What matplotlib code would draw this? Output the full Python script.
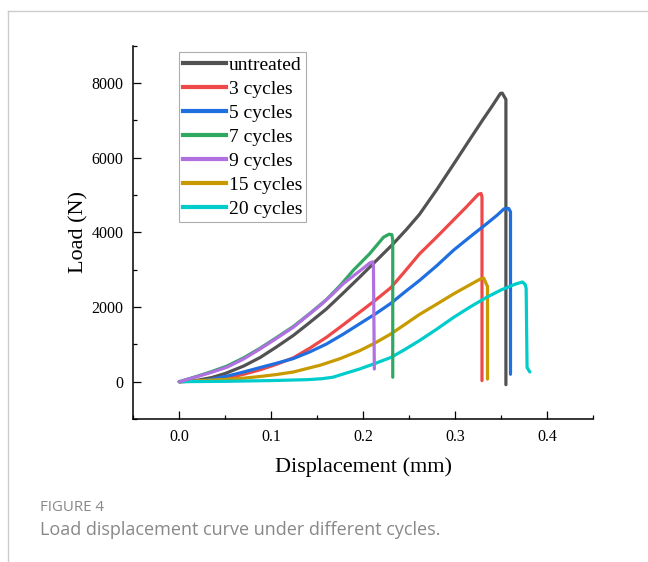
import numpy as np
import matplotlib
matplotlib.use('Agg')
import matplotlib.pyplot as plt
from matplotlib.lines import Line2D
from matplotlib.ticker import MultipleLocator

# displacement (mm) / load (N), one pair per series
x_untreated = [0, 0.02, 0.035, 0.05, 0.07, 0.088, 0.105, 0.124, 0.142, 0.16, 0.178, 0.196, 0.214, 0.232,
               0.247, 0.261, 0.28, 0.298, 0.315, 0.33, 0.34, 0.349, 0.351, 0.355, 0.355]
y_untreated = [0, 40, 110, 220, 420, 650, 920, 1240, 1590, 1950, 2370, 2800, 3240, 3680,
               4080, 4480, 5150, 5820, 6460, 7020, 7380, 7720, 7730, 7560, -80]

x_3 = [0, 0.03, 0.052, 0.07, 0.088, 0.105, 0.124, 0.142, 0.16, 0.178, 0.196, 0.214, 0.23, 0.245,
       0.261, 0.28, 0.298, 0.312, 0.325, 0.328, 0.329, 0.329]
y_3 = [0, 20, 100, 200, 320, 460, 640, 900, 1190, 1520, 1860, 2200, 2520, 2950,
       3420, 3880, 4330, 4680, 5020, 5040, 4950, 30]

x_5 = [0, 0.03, 0.052, 0.07, 0.088, 0.105, 0.124, 0.142, 0.16, 0.178, 0.196, 0.214, 0.23, 0.245,
       0.261, 0.28, 0.298, 0.316, 0.334, 0.345, 0.353, 0.358, 0.36, 0.36]
y_5 = [0, 40, 150, 260, 380, 490, 620, 800, 1010, 1270, 1550, 1830, 2100, 2400,
       2710, 3110, 3520, 3880, 4230, 4450, 4630, 4640, 4550, 200]

x_7 = [0, 0.02, 0.035, 0.052, 0.07, 0.088, 0.105, 0.124, 0.142, 0.16, 0.175, 0.189, 0.207, 0.222,
       0.228, 0.231, 0.232, 0.232]
y_7 = [0, 150, 270, 420, 640, 900, 1170, 1480, 1830, 2200, 2580, 2980, 3430, 3870,
       3950, 3940, 3800, 120]

x_9 = [0, 0.02, 0.035, 0.052, 0.07, 0.088, 0.105, 0.124, 0.14, 0.153, 0.166, 0.178, 0.19, 0.2,
       0.207, 0.21, 0.211, 0.212]
y_9 = [0, 140, 250, 390, 610, 880, 1150, 1460, 1780, 2040, 2330, 2620, 2850, 3040,
       3180, 3210, 3100, 340]

x_15 = [0, 0.05, 0.07, 0.088, 0.105, 0.124, 0.14, 0.153, 0.175, 0.196, 0.213, 0.23, 0.245,
        0.261, 0.28, 0.298, 0.314, 0.328, 0.331, 0.334, 0.335, 0.335]
y_15 = [0, 60, 95, 140, 190, 260, 360, 440, 620, 830, 1040, 1280, 1530,
        1800, 2080, 2350, 2570, 2760, 2770, 2600, 2550, 70]

x_20 = [0, 0.05, 0.1, 0.14, 0.155, 0.167, 0.18, 0.196, 0.213, 0.23, 0.245, 0.261, 0.28, 0.298,
        0.316, 0.334, 0.35, 0.366, 0.373, 0.376, 0.377, 0.378, 0.381]
y_20 = [0, 10, 30, 55, 80, 120, 220, 340, 490, 650, 860, 1100, 1410, 1720,
        2000, 2260, 2460, 2620, 2670, 2600, 2500, 380, 260]

labels = ['untreated', '3 cycles', '5 cycles', '7 cycles', '9 cycles', '15 cycles', '20 cycles']
colors = ['#525252', '#ef4848', '#1f6fe0', '#2fa862', '#b070e0', '#c89a00', '#00cccc']
series = [(x_untreated, y_untreated), (x_3, y_3), (x_5, y_5), (x_7, y_7),
          (x_9, y_9), (x_15, y_15), (x_20, y_20)]

serif = 'Liberation Serif'

fig = plt.figure(figsize=(6.48, 5.62), dpi=100)
ax = fig.add_axes([0.2057, 0.2544, 0.7099, 0.6643])

# draw back to front so the short curves sit on top like the original
order = [0, 1, 2, 5, 6, 3, 4]
for i in order:
    xs, ys = series[i]
    ax.plot(xs, ys, color=colors[i], lw=2.3, solid_joinstyle='round', solid_capstyle='round')

ax.set_xlim(-0.05, 0.45)
ax.set_ylim(-1000, 9000)
ax.xaxis.set_major_locator(MultipleLocator(0.1))
ax.xaxis.set_minor_locator(MultipleLocator(0.05))
ax.yaxis.set_major_locator(MultipleLocator(2000))
ax.yaxis.set_minor_locator(MultipleLocator(1000))
ax.set_xticks([0.0, 0.1, 0.2, 0.3, 0.4])
ax.set_xticklabels(['0.0', '0.1', '0.2', '0.3', '0.4'])

for s in ['top', 'right']:
    ax.spines[s].set_visible(False)
for s in ['left', 'bottom']:
    ax.spines[s].set_linewidth(1.1)

ax.tick_params(which='major', direction='in', length=6, width=0.9, labelsize=11.5, pad=7)
ax.tick_params(which='minor', direction='in', length=3, width=0.9)
for lab in ax.get_xticklabels() + ax.get_yticklabels():
    lab.set_family(serif)

ax.set_xlabel('Displacement (mm)', fontsize=16, family=serif, labelpad=9)
ax.set_ylabel('Load (N)', fontsize=16, family=serif, labelpad=2)

handles = [Line2D([], [], color=c, lw=3) for c in colors]
leg = ax.legend(handles, labels, loc='upper left', bbox_to_anchor=(0.1, 0.983),
                prop={'family': serif, 'size': 14}, frameon=True, fancybox=False,
                edgecolor='#999999', handlelength=2.2, handletextpad=0.15,
                labelspacing=0.33, borderpad=0.2, borderaxespad=0)
leg.get_frame().set_linewidth(0.8)

# page frame and caption
fig.add_artist(Line2D([8 / 648, 1], [1 - 11 / 562, 1 - 11 / 562], color='#cccccc', lw=1))
fig.add_artist(Line2D([8 / 648, 8 / 648], [0, 1 - 11 / 562], color='#cccccc', lw=1))
fig.text(40 / 648, 1 - 511 / 562, 'FIGURE 4', fontsize=10.8, family='Open Sans', color='#888888')
fig.text(40 / 648, 1 - 535 / 562, 'Load displacement curve under different cycles.',
         fontsize=13, family='Open Sans', color='#888888')

fig.savefig('out.png', dpi=100)
